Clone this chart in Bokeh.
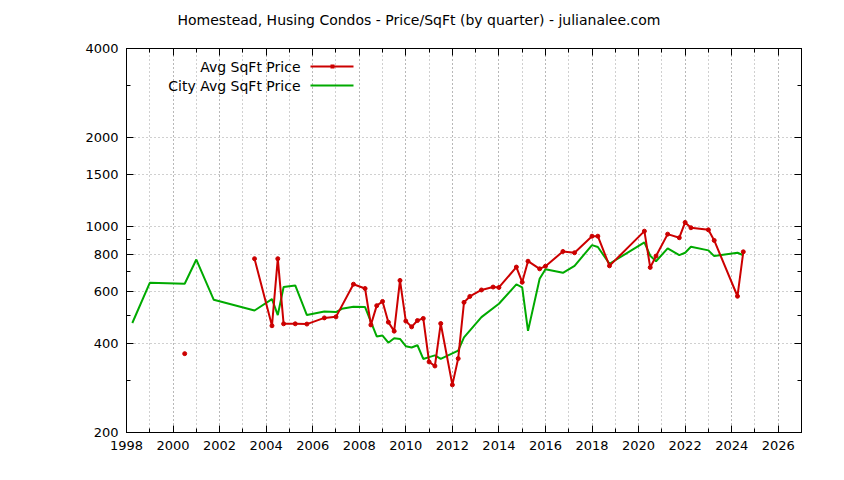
import math
from bokeh.plotting import figure
from bokeh.models import (Range1d, FixedTicker, SingleIntervalTicker, LinearAxis, LogAxis,
                          PrintfTickFormatter, Label, BoxAnnotation, CustomLabelingPolicy, Title)
from bokeh.embed import file_html
from bokeh.resources import INLINE

nan = float("nan")

title_text = "Homestead, Husing Condos - Price/SqFt (by quarter) - julianalee.com"
legend_labels = ["Avg SqFt Price", "City Avg SqFt Price"]

y_major = [200, 400, 600, 800, 1000, 1500, 2000, 4000]
y_minor = [300, 500, 700, 900, 3000]

red_years = [2000.5, nan, 2003.5, 2004.25, 2004.5, 2004.75, 2005.25, 2005.75, 2006.5, 2007.0,
             2007.75, 2008.25, 2008.5, 2008.75, 2009.0, 2009.25, 2009.5, 2009.75, 2010.0,
             2010.25, 2010.5, 2010.75, 2011.0, 2011.25, 2011.5, 2012.0, 2012.25, 2012.5,
             2012.75, 2013.25, 2013.75, 2014.0, 2014.75, 2015.0, 2015.25, 2015.75, 2016.0,
             2016.75, 2017.25, 2018.0, 2018.25, 2018.75, 2020.25, 2020.5, 2020.75, 2021.25,
             2021.75, 2022.0, 2022.25, 2023.0, 2023.25, 2024.25, 2024.5]
red_values = [370, nan, 776, 460, 776, 467, 467, 466, 489, 493,
              636, 615, 463, 538, 556, 473, 441, 655, 477,
              456, 479, 487, 347, 336, 468, 290, 356, 552,
              578, 608, 622, 620, 727, 646, 761, 717, 732,
              821, 813, 925, 925, 734, 962, 725, 792, 940,
              914, 1030, 988, 972, 895, 579, 819]

green_years = [1998.25, 1999.0, 2000.5, 2001.0, 2001.75, 2003.5, 2004.25, 2004.5, 2004.75,
               2005.25, 2005.75, 2006.5, 2007.0, 2007.25, 2007.75, 2008.25, 2008.75, 2009.0,
               2009.25, 2009.5, 2009.75, 2010.0, 2010.25, 2010.5, 2010.75, 2011.0, 2011.25,
               2011.5, 2012.25, 2012.5, 2013.25, 2014.0, 2014.75, 2015.0, 2015.25, 2015.75,
               2016.0, 2016.75, 2017.25, 2018.0, 2018.25, 2018.75, 2020.25, 2020.5, 2020.75,
               2021.25, 2021.75, 2022.0, 2022.25, 2023.0, 2023.25, 2024.25, 2024.5]
green_values = [470, 643, 638, 771, 563, 518, 566, 500, 622,
                630, 500, 514, 512, 525, 533, 532, 423, 426,
                403, 417, 415, 392, 388, 395, 355, 360, 365,
                355, 379, 420, 492, 546, 635, 620, 442, 664,
                715, 695, 734, 863, 850, 746, 881, 794, 761,
                841, 798, 813, 852, 828, 792, 813, 797]

RED = "#cc0000"
GREEN = "#00aa00"
FONT = "DejaVu Sans"

p = figure(width=836, height=472, y_axis_type="log",
           x_range=Range1d(1998, 2027), y_range=Range1d(200, 4000),
           output_backend="svg", toolbar_location=None,
           min_border_left=126, min_border_right=35, min_border_top=48, min_border_bottom=40)
p.title = Title(text=title_text, align="left", offset=51, standoff=19, text_font=FONT,
                text_font_size="14px", text_font_style="normal", text_color="black")
p.outline_line_color = "black"
p.outline_line_width = 1

xt = SingleIntervalTicker(interval=2, num_minor_ticks=2)
yt = FixedTicker(ticks=y_major, minor_ticks=y_minor)

for ax in (p.xaxis[0], p.yaxis[0]):
    ax.major_tick_in = 7
    ax.major_tick_out = 0
    ax.minor_tick_in = 4
    ax.minor_tick_out = 0
    ax.axis_line_color = "black"
    ax.major_tick_line_color = "black"
    ax.minor_tick_line_color = "black"
    ax.major_label_text_font = FONT
    ax.major_label_text_font_size = "13px"
    ax.major_label_text_color = "black"

p.xaxis[0].ticker = xt
p.xaxis[0].major_label_standoff = 8
p.yaxis[0].ticker = yt
p.yaxis[0].formatter = PrintfTickFormatter(format="%d")
p.yaxis[0].major_label_standoff = 8

hide_code = """
const all = [...indices]
for (const i of all) indices.unset(i)
"""
top_ax = LinearAxis(ticker=xt, major_tick_in=7, major_tick_out=0, minor_tick_in=4, minor_tick_out=0,
                    major_label_policy=CustomLabelingPolicy(code=hide_code), major_label_standoff=0)
right_ax = LogAxis(ticker=yt, major_tick_in=7, major_tick_out=0, minor_tick_in=4, minor_tick_out=0,
                   major_label_policy=CustomLabelingPolicy(code=hide_code), major_label_standoff=0)
p.add_layout(top_ax, "above")
p.add_layout(right_ax, "right")

p.xgrid.ticker = xt
p.xgrid.grid_line_color = "#a0a0a0"
p.xgrid.grid_line_dash = "1 3"
p.xgrid.minor_grid_line_color = "#a0a0a0"
p.xgrid.minor_grid_line_dash = "1 3"
p.ygrid.ticker = yt
p.ygrid.grid_line_color = "#a0a0a0"
p.ygrid.grid_line_dash = "1 3"

p.line(green_years, green_values, line_color=GREEN, line_width=2)
p.line(red_years, red_values, line_color=RED, line_width=2)
p.scatter(red_years, red_values, size=4, color=RED)

# legend (gnuplot style: label then sample)
for i, (lab, col) in enumerate(zip(legend_labels, [RED, GREEN])):
    ys = 366 - i * 19
    p.add_layout(Label(x=174, y=ys, x_units="screen", y_units="screen", text=lab,
                       text_align="right", text_baseline="middle", text_font=FONT,
                       text_font_size="14px", text_color="black"))
    p.add_layout(BoxAnnotation(left=184, right=227, bottom=ys - 1, top=ys + 1,
                               left_units="screen", right_units="screen",
                               bottom_units="screen", top_units="screen",
                               fill_color=col, fill_alpha=1, line_color=None))
p.add_layout(BoxAnnotation(left=204, right=208, bottom=364, top=368,
                           left_units="screen", right_units="screen",
                           bottom_units="screen", top_units="screen",
                           fill_color=RED, fill_alpha=1, line_color=None))

open("out.html", "w").write(file_html(p, INLINE))
